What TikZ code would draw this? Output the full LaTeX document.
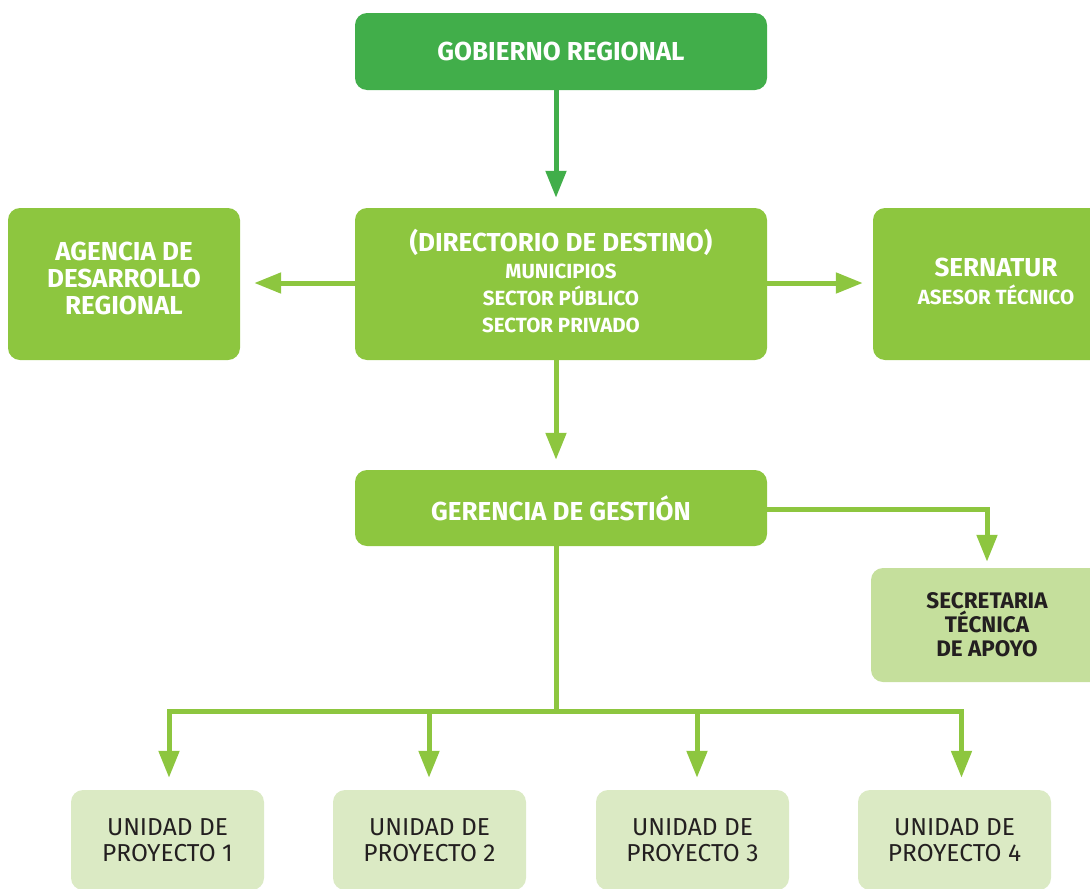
\documentclass[tikz,border=0pt]{standalone}
\usepackage{fontspec}
\setmainfont{Fira Sans}
\usetikzlibrary{arrows.meta,calc}
\definecolor{gdark}{HTML}{41AE4A}
\definecolor{gmid}{HTML}{8DC63F}
\definecolor{glight}{HTML}{C5DF9C}
\definecolor{gpale}{HTML}{DBEAC4}
\definecolor{txtdark}{HTML}{231F20}
\begin{document}
\begin{tikzpicture}[x=1pt,y=-1pt,
  box/.style={rounded corners=12pt,align=center,inner sep=0pt},
  darkbox/.style={box,fill=gdark,text=white,font=\bfseries\fontsize{26}{27}\selectfont},
  midbox/.style={box,fill=gmid,text=white,font=\bfseries\fontsize{26}{27}\selectfont},
  secbox/.style={box,fill=glight,text=txtdark,font=\bfseries\fontsize{22.5}{24}\selectfont},
  unitbox/.style={box,fill=gpale,text=txtdark,font=\fontsize{24.5}{26}\selectfont},
  wlabel/.style={align=center,inner sep=0pt,text=white},
  darkconn/.style={draw=gdark,line width=5pt,-{Triangle[width=20pt,length=27pt]}},
  conn/.style={draw=gmid,line width=5pt,-{Triangle[width=20pt,length=27pt]}}
]
\useasboundingbox (0,0) rectangle (1090,889);
\clip (0,0) rectangle (1090,889);
\node[darkbox,minimum width=412pt,minimum height=77pt] (gob) at (561,51.5) {GOBIERNO REGIONAL};
\node[midbox,minimum width=412pt,minimum height=152pt] (dir) at (561,284) {};
\node[wlabel,font=\bfseries\fontsize{20.5}{27}\selectfont] (dirtxt) at (561,281)
  {{\fontsize{26}{27}\selectfont (DIRECTORIO DE DESTINO)}\\MUNICIPIOS\\SECTOR PÚBLICO\\SECTOR PRIVADO};
\node[midbox,minimum width=232pt,minimum height=152pt] (age) at (124,284) {};
\node[wlabel,font=\bfseries\fontsize{26}{27}\selectfont] (agetxt) at (124,278) {AGENCIA DE\\DESARROLLO\\REGIONAL};
\node[midbox,minimum width=246pt,minimum height=152pt] (ser) at (996,284) {};
\node[wlabel,font=\bfseries\fontsize{20.5}{28}\selectfont] (sertxt) at (996,281) {{\fontsize{26}{28}\selectfont SERNATUR}\\ASESOR TÉCNICO};
\node[midbox,minimum width=412pt,minimum height=76pt] (ger) at (561,508) {GERENCIA DE GESTIÓN};
\node[secbox,minimum width=232pt,minimum height=114pt] (sec) at (987,625) {SECRETARIA\\TÉCNICA\\DE APOYO};
\node[unitbox,minimum width=193pt,minimum height=100pt] (u1) at (167.5,840) {UNIDAD DE\\PROYECTO 1};
\node[unitbox,minimum width=193pt,minimum height=100pt] (u2) at (429.5,840) {UNIDAD DE\\PROYECTO 2};
\node[unitbox,minimum width=193pt,minimum height=100pt] (u3) at (692.5,840) {UNIDAD DE\\PROYECTO 3};
\node[unitbox,minimum width=193pt,minimum height=100pt] (u4) at (954.5,840) {UNIDAD DE\\PROYECTO 4};
\coordinate (j) at (556,711);
% connectors
\draw[darkconn,shorten >=10pt] ([xshift=-5pt]gob.south) -- ([xshift=-5pt]dir.north);
\draw[conn,shorten >=14pt] ([yshift=1pt]dir.west) -- ([yshift=1pt]age.east);
\draw[conn,shorten >=10pt] ([yshift=1pt]dir.east) -- ([yshift=1pt]ser.west);
\draw[conn,shorten >=10pt] ([xshift=-5pt]dir.south) -- ([xshift=-5pt]ger.north);
\draw[conn,shorten >=6pt] ([yshift=-1pt]ger.east) -| (sec.north);
\draw[draw=gmid,line width=5pt] ([xshift=-5pt]ger.south) -- (j);
\draw[conn,shorten >=12pt] (j) -| ([xshift=1.5pt]u1.north);
\draw[conn,shorten >=12pt] (j) -| ([xshift=-0.5pt]u2.north);
\draw[conn,shorten >=12pt] (j) -| ([xshift=4.5pt]u3.north);
\draw[conn,shorten >=12pt] (j) -| ([xshift=7pt]u4.north);
\end{tikzpicture}
\end{document}
